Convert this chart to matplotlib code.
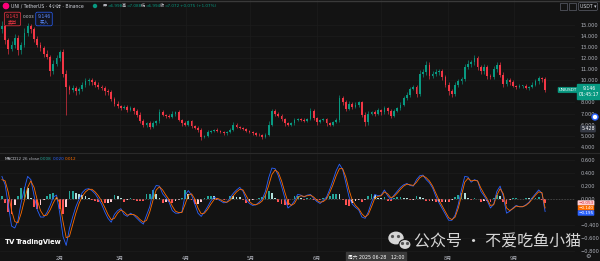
import numpy as np
import pandas as pd
import matplotlib
matplotlib.use("Agg")
import matplotlib.pyplot as plt
from matplotlib.patches import Ellipse, Rectangle, Circle

plt.rcParams['font.family'] = ['DejaVu Sans', 'Noto Sans CJK SC']

# UNI/USDT at roughly one candle per 36h
first_open = 14.6
closes = [14.9, 13.6, 12.8, 13.2, 13.8, 12.7, 13.2, 14.3, 14.9, 14.6,
          13.7, 13.2, 12.9, 12.4, 12.1, 10.8, 11.5, 12.0, 12.5, 10.6,
          9.4, 9.1, 9.3, 9.0, 9.2, 9.6, 9.9, 10.0, 9.8, 9.6,
          9.4, 9.3, 9.0, 8.9, 8.3, 7.9, 7.7, 7.5, 7.6, 7.3,
          7.5, 7.2, 6.9, 6.3, 6.0, 6.1, 5.8, 6.1, 6.3, 7.1,
          6.9, 6.8, 6.7, 7.0, 7.1, 6.4, 6.1, 6.0, 6.3, 5.9,
          5.7, 5.5, 4.9, 5.0, 5.3, 5.4, 5.5, 5.4, 5.3, 5.2,
          5.3, 5.5, 6.0, 5.8, 5.7, 5.6, 5.4, 5.3, 5.2, 5.1,
          5.05, 4.9, 5.1, 6.0, 7.2, 7.0, 6.8, 6.5, 6.1, 6.0,
          6.1, 6.4, 6.5, 6.4, 6.3, 6.5, 7.2, 6.6, 6.2, 6.4,
          6.5, 6.1, 6.0, 6.2, 6.4, 8.4, 8.0, 7.4, 7.9, 7.6,
          7.8, 8.0, 6.9, 6.2, 7.0, 7.1, 7.0, 7.3, 7.1, 7.5,
          7.2, 6.8, 7.2, 7.5, 7.8, 8.4, 8.7, 9.2, 9.4, 8.8,
          10.6, 10.7, 11.4, 10.4, 10.6, 10.7, 10.8, 10.3, 9.6, 9.0,
          8.8, 9.6, 9.9, 10.1, 11.2, 11.5, 11.6, 12.0, 11.2, 10.8,
          11.2, 10.4, 10.3, 11.0, 11.4, 10.5, 9.7, 10.0, 9.8, 9.5,
          9.4, 9.5, 9.5, 9.3, 9.4, 9.6, 9.9, 10.2, 10.1, 9.146]
upper_wick = [0.4, 0.3, 0.2, 0.3, 0.4, 0.3, 0.2, 0.4, 0.3, 0.2,
              0.2, 0.3, 0.2, 0.2, 0.3, 0.2, 0.3, 0.3, 0.2, 0.3,
              0.3, 0.2, 0.3, 0.2, 0.2, 0.2, 0.3, 0.2, 0.2, 0.2,
              0.2, 0.2, 0.2, 0.2, 0.2, 0.2, 0.2, 0.1, 0.2, 0.2,
              0.2, 0.1, 0.2, 0.2, 0.2, 0.1, 0.2, 0.2, 0.1, 0.3,
              0.2, 0.1, 0.2, 0.2, 0.1, 0.2, 0.1, 0.2, 0.1, 0.1,
              0.1, 0.2, 0.2, 0.1, 0.2, 0.1, 0.1, 0.2, 0.1, 0.1,
              0.1, 0.2, 0.2, 0.1, 0.1, 0.1, 0.1, 0.1, 0.1, 0.1,
              0.1, 0.1, 0.1, 0.3, 0.2, 0.2, 0.1, 0.2, 0.1, 0.1,
              0.1, 0.2, 0.1, 0.1, 0.2, 0.1, 0.3, 0.2, 0.1, 0.1,
              0.1, 0.1, 0.1, 0.1, 0.2, 0.3, 0.2, 0.2, 0.2, 0.1,
              0.2, 0.1, 0.1, 0.2, 0.2, 0.1, 0.2, 0.2, 0.1, 0.2,
              0.1, 0.2, 0.2, 0.1, 0.2, 0.2, 0.2, 0.2, 0.2, 0.2,
              0.3, 0.3, 0.3, 0.2, 0.2, 0.3, 0.2, 0.2, 0.2, 0.2,
              0.2, 0.2, 0.2, 0.2, 0.3, 0.3, 0.2, 0.3, 0.2, 0.2,
              0.3, 0.2, 0.2, 0.3, 0.2, 0.2, 0.2, 0.2, 0.2, 0.2,
              0.1, 0.2, 0.1, 0.2, 0.1, 0.2, 0.2, 0.2, 0.1, 0.2]
lower_wick = [0.3, 0.3, 0.4, 0.2, 0.3, 0.4, 0.3, 0.2, 0.3, 0.3,
              0.3, 0.2, 0.3, 0.3, 0.2, 0.4, 0.2, 0.2, 0.3, 0.3,
              2.5, 0.3, 0.2, 0.3, 0.2, 0.2, 0.2, 0.3, 0.2, 0.2,
              0.2, 0.2, 0.3, 0.2, 0.2, 0.2, 0.2, 0.2, 0.1, 0.2,
              0.1, 0.2, 0.2, 0.2, 0.2, 0.2, 0.2, 0.1, 0.1, 0.2,
              0.1, 0.2, 0.1, 0.1, 0.2, 0.1, 0.2, 0.1, 0.1, 0.2,
              0.1, 0.2, 0.3, 0.1, 0.1, 0.1, 0.1, 0.1, 0.1, 0.1,
              0.1, 0.1, 0.1, 0.1, 0.1, 0.1, 0.1, 0.1, 0.1, 0.1,
              0.1, 0.2, 0.1, 0.1, 0.1, 0.2, 0.1, 0.2, 0.2, 0.1,
              0.1, 0.1, 0.1, 0.1, 0.1, 0.1, 0.1, 0.2, 0.2, 0.1,
              0.1, 0.2, 0.1, 0.1, 0.1, 0.2, 0.2, 0.2, 0.1, 0.2,
              0.1, 0.2, 0.2, 0.3, 0.2, 0.1, 0.2, 0.1, 0.2, 0.1,
              0.2, 0.2, 0.1, 0.1, 0.2, 0.1, 0.2, 0.2, 0.1, 0.3,
              0.2, 0.3, 0.2, 0.3, 0.2, 0.2, 0.2, 0.3, 0.2, 0.3,
              0.3, 0.2, 0.2, 0.2, 0.2, 0.2, 0.3, 0.2, 0.3, 0.2,
              0.2, 0.3, 0.2, 0.2, 0.3, 0.2, 0.3, 0.2, 0.2, 0.1,
              0.2, 0.1, 0.2, 0.1, 0.2, 0.1, 0.1, 0.2, 0.3, 0.2]

macd = [0.35, 0.22, -0.10, -0.42, -0.45, -0.33, -0.05, 0.16, 0.35, 0.30,
        0.05, -0.17, -0.28, -0.28, -0.21, -0.10, 0.03, 0.06, -0.22, -0.58,
        -0.72, -0.46, -0.28, -0.12, 0.00, 0.10, 0.15, 0.16, 0.13, 0.08,
        0.00, -0.08, -0.20, -0.30, -0.36, -0.24, -0.18, -0.15, -0.24, -0.27,
        -0.22, -0.25, -0.30, -0.35, -0.39, -0.25, -0.12, 0.12, 0.21, 0.20,
        0.08, 0.02, -0.05, -0.18, -0.22, -0.22, -0.20, 0.06, 0.13, 0.06,
        -0.08, -0.22, -0.27, -0.20, -0.12, -0.03, 0.03, 0.00, -0.03, -0.06,
        -0.05, 0.02, 0.09, 0.14, 0.18, 0.12, -0.01, -0.07, -0.10, -0.09,
        -0.05, 0.00, 0.12, 0.33, 0.48, 0.47, 0.36, 0.20, 0.02, -0.14,
        -0.10, -0.03, 0.07, 0.06, 0.03, 0.06, 0.07, 0.01, -0.04, -0.07,
        -0.02, 0.03, 0.15, 0.29, 0.44, 0.54, 0.46, 0.25, 0.03, -0.08,
        -0.13, -0.17, -0.28, -0.30, -0.20, -0.05, 0.07, 0.05, 0.06, 0.14,
        0.05, -0.01, 0.06, 0.12, 0.18, 0.22, 0.24, 0.21, 0.20, 0.30,
        0.36, 0.37, 0.30, 0.25, 0.17, 0.04, -0.06, -0.15, -0.24, -0.33,
        -0.33, -0.25, -0.08, 0.15, 0.35, 0.34, 0.26, 0.30, 0.28, 0.12,
        0.05, -0.03, -0.14, -0.08, 0.12, 0.20, 0.04, -0.22, -0.19, -0.14,
        -0.10, -0.12, -0.12, -0.09, -0.05, 0.02, 0.08, 0.14, 0.09, -0.195]
signal = [0.30, 0.28, 0.10, -0.18, -0.35, -0.37, -0.22, -0.02, 0.18, 0.28,
          0.18, -0.02, -0.18, -0.26, -0.25, -0.17, -0.06, 0.03, -0.06, -0.35,
          -0.60, -0.58, -0.40, -0.22, -0.07, 0.04, 0.11, 0.15, 0.15, 0.11,
          0.05, -0.03, -0.13, -0.24, -0.32, -0.30, -0.22, -0.17, -0.20, -0.25,
          -0.24, -0.24, -0.27, -0.32, -0.36, -0.33, -0.20, -0.02, 0.14, 0.19,
          0.14, 0.06, -0.01, -0.11, -0.19, -0.21, -0.21, -0.08, 0.06, 0.08,
          0.00, -0.14, -0.23, -0.22, -0.16, -0.08, -0.01, 0.01, -0.01, -0.04,
          -0.05, -0.02, 0.05, 0.11, 0.15, 0.14, 0.05, -0.04, -0.08, -0.09,
          -0.07, -0.03, 0.06, 0.21, 0.38, 0.45, 0.41, 0.28, 0.11, -0.05,
          -0.10, -0.07, 0.02, 0.05, 0.04, 0.05, 0.06, 0.03, -0.02, -0.05,
          -0.04, 0.00, 0.10, 0.22, 0.36, 0.47, 0.47, 0.34, 0.14, -0.02,
          -0.10, -0.15, -0.23, -0.28, -0.24, -0.12, 0.01, 0.04, 0.05, 0.11,
          0.08, 0.02, 0.04, 0.09, 0.15, 0.20, 0.23, 0.22, 0.21, 0.26,
          0.33, 0.36, 0.33, 0.28, 0.20, 0.09, -0.02, -0.11, -0.20, -0.29,
          -0.32, -0.28, -0.14, 0.06, 0.26, 0.32, 0.28, 0.29, 0.28, 0.17,
          0.08, 0.00, -0.10, -0.09, 0.06, 0.16, 0.08, -0.14, -0.18, -0.15,
          -0.11, -0.12, -0.12, -0.10, -0.06, 0.00, 0.06, 0.11, 0.10, -0.140]

start = pd.Timestamp('2025-01-05')
step = pd.Timedelta('36h')
months = ['2025-02-01', '2025-03-01', '2025-04-01', '2025-05-01',
          '2025-06-01', '2025-07-01', '2025-08-01', '2025-09-01']
# July label sits under the crosshair date tag in the screenshot
month_labels = ['2月', '3月', '4月', '5月', '6月', '', '8月', '9月']
price_ticks = [15, 14, 13, 12, 11, 10, 8, 7, 6, 5, 4]
macd_ticks = [0.6, 0.4, 0.2, 0.0, -0.4, -0.6, -0.8]

BG = '#131313'
GRID = '#1d1d1d'
UP = '#089981'
DOWN = '#f23645'
AXC = '#b2b5be'

n = len(closes)
idx = np.arange(n)
c = np.array(closes)
o = np.array([first_open] + closes[:-1])
hi = np.maximum(o, c) + np.array(upper_wick)
lo = np.minimum(o, c) - np.array(lower_wick)
col = np.where(c >= o, UP, DOWN)
mpos = [(pd.Timestamp(m) - start) / step for m in months]

fig = plt.figure(figsize=(6, 2.61), dpi=100, facecolor=BG)
ax = fig.add_axes([0, 108 / 261, 575 / 600, 153 / 261], facecolor=BG)
ax2 = fig.add_axes([0, 9 / 261, 575 / 600, 99 / 261], facecolor=BG)

for a in (ax, ax2):
    a.set_xlim(-0.6, 178.3)
    for sp in a.spines.values():
        sp.set_visible(False)
    a.set_xticks(mpos)
    a.grid(color=GRID, lw=0.5)
    a.set_axisbelow(True)
    a.yaxis.tick_right()
    a.tick_params(axis='y', length=0, labelsize=3.6, labelcolor=AXC, pad=4)

# candles
ax.vlines(idx, lo, hi, colors=col, lw=0.45)
ax.bar(idx, np.maximum(np.abs(c - o), 0.04), bottom=np.minimum(o, c),
       width=0.55, color=col, lw=0)
ax.set_ylim(3.44, 17.23)
ax.set_yticks(price_ticks)
ax.set_yticklabels(['%.3f' % t for t in price_ticks])
ax.tick_params(axis='x', length=0, labelbottom=False)

# MACD pane
m = np.array(macd)
s = np.array(signal)
h = m - s
prev = np.concatenate([[0], h[:-1]])
hcol = np.where(h >= 0, np.where(h >= prev, '#26a69a', '#b2dfdb'),
                np.where(h <= prev, '#ff5252', '#ffcdd2'))
ax2.bar(idx, h, width=0.55, color=hcol, lw=0)
ax2.plot(idx, m, color='#2962ff', lw=0.6)
ax2.plot(idx, s, color='#ff6d00', lw=0.6)
ax2.axhline(0, color='#555555', lw=0.5, ls=(0, (2, 2)))
ax2.set_ylim(-0.822, 0.713)
ax2.set_yticks(macd_ticks)
ax2.set_yticklabels([('%.3f' % t).replace('-', '−') for t in macd_ticks])
ax2.set_xticklabels(month_labels)
ax2.tick_params(axis='x', length=0, labelsize=3.6, labelcolor=AXC, pad=2.5)

# overlay in pixel coordinates for labels, boxes, watermark
ov = fig.add_axes([0, 0, 1, 1])
ov.set_xlim(0, 600)
ov.set_ylim(261, 0)
ov.axis('off')
ov.axhline(153, color='#2a2a2a', lw=0.8)
ov.axhline(0.5, color='#3a3a3a', lw=1)


def box(x, y, text, fc, tc, size=3.4, pad=0.2):
    ov.text(x, y, text, fontsize=size, color=tc, ha='center', va='center',
            bbox=dict(boxstyle='round,pad=%s' % pad, fc=fc, ec=fc, lw=0.3))


# header
ov.add_patch(Circle((6, 6), 2.6, color='#ff007a'))
ov.text(11, 6, 'UNI / TetherUS · 4小时 · Binance', fontsize=3.3,
        color='#d1d4dc', va='center')
ov.add_patch(Circle((95, 6), 1.5, color=UP))
for xx, lab, val in [(103, '开', '=6.998'), (122, '高', '=7.088'),
                     (141, '低', '=6.994'), (160, '收', '=7.072')]:
    ov.text(xx, 6, lab, fontsize=3.0, color='#d1d4dc', va='center')
    ov.text(xx + 4.2, 6, val, fontsize=3.0, color=UP, va='center')
ov.text(180, 6, '+0.075 (+1.07%)', fontsize=3.0, color=UP, va='center')

ov.text(12.5, 19, '9.143\n卖出', fontsize=3.3, color='#f23645', ha='center',
        va='center', linespacing=1.1,
        bbox=dict(boxstyle='round,pad=0.35', fc='#1a1212', ec=DOWN, lw=0.5))
ov.text(29, 17, '0.003', fontsize=3.0, color='#d1d4dc', ha='center', va='center')
ov.text(44, 19, '9.146\n买入', fontsize=3.3, color='#5b8cff', ha='center',
        va='center', linespacing=1.1,
        bbox=dict(boxstyle='round,pad=0.35', fc='#12141f', ec='#2962ff', lw=0.5))

# top right buttons
for xx in (563.5, 572.5):
    ov.add_patch(Rectangle((xx - 3.5, 3), 7, 7, fc='none', ec='#5d606b', lw=0.5))
ov.text(588, 6.5, 'USDT ▾', fontsize=3.3, color='#d1d4dc', ha='center', va='center',
        bbox=dict(boxstyle='round,pad=0.3', fc=BG, ec='#5d606b', lw=0.5))

# price axis tags
box(568, 90, 'UNIUSDT', UP, 'white', size=3.0)
ov.text(589, 91.5, '9.146\n01:45:17', fontsize=3.3, color='white', ha='center',
        va='center', linespacing=1.1,
        bbox=dict(boxstyle='square,pad=0.4', fc=UP, ec=UP))
box(588, 128.7, '5.428', '#363a45', 'white', size=3.4)
ov.add_patch(Circle((595, 117), 3, color='#2962ff'))
ov.add_patch(Circle((595, 117), 1.5, color='white'))

# MACD legend and tags
ov.text(5, 159, 'MACD', fontsize=3.0, color='#d1d4dc', va='center')
ov.text(16, 159, '12 26 close', fontsize=3.0, color=AXC, va='center')
ov.text(40, 159, '0.008', fontsize=3.0, color='#26a69a', va='center')
ov.text(52.5, 159, '0.020', fontsize=3.0, color='#2962ff', va='center')
ov.text(65, 159, '0.012', fontsize=3.0, color='#ff6d00', va='center')
box(586, 203, '−0.053', '#ffcdd2', '#d32f2f', size=3.0, pad=0.12)
box(586, 208, '−0.140', '#ff6d00', 'white', size=3.0, pad=0.12)
box(586, 213, '−0.195', '#2962ff', 'white', size=3.0, pad=0.12)

# crosshair date tag
ov.text(376, 256.5, '周六 2025 06-28   12:00', fontsize=3.4, color='white',
        ha='center', va='center',
        bbox=dict(boxstyle='square,pad=0.45', fc='#3b3b3b', ec='#3b3b3b'))
ov.text(588, 256.5, '⚙', fontsize=4.5, color=AXC, ha='center', va='center')

# TradingView logo
ov.text(5, 242, 'TV', fontsize=5, color='white', weight='bold', va='center')
ov.text(16, 242, 'TradingView', fontsize=4.8, color='white', weight='bold',
        va='center')

# watermark
ov.add_patch(Ellipse((396, 238), 14, 11.5, color='#d6d6d6'))
ov.add_patch(Ellipse((405, 244.5), 12, 10, color='#d6d6d6', ec=BG, lw=0.8))
for ex, ey in [(392.5, 236.5), (398.5, 236.5), (402.5, 243.5), (407.5, 243.5)]:
    ov.add_patch(Circle((ex, ey), 0.9, color='#555555'))
ov.text(414, 241.5, '公众号 · 不爱吃鱼小猫', fontsize=11.5, color='#d6d6d6',
        va='center', family=['Noto Sans CJK SC'])

fig.savefig('out.png', dpi=100, facecolor=BG)
